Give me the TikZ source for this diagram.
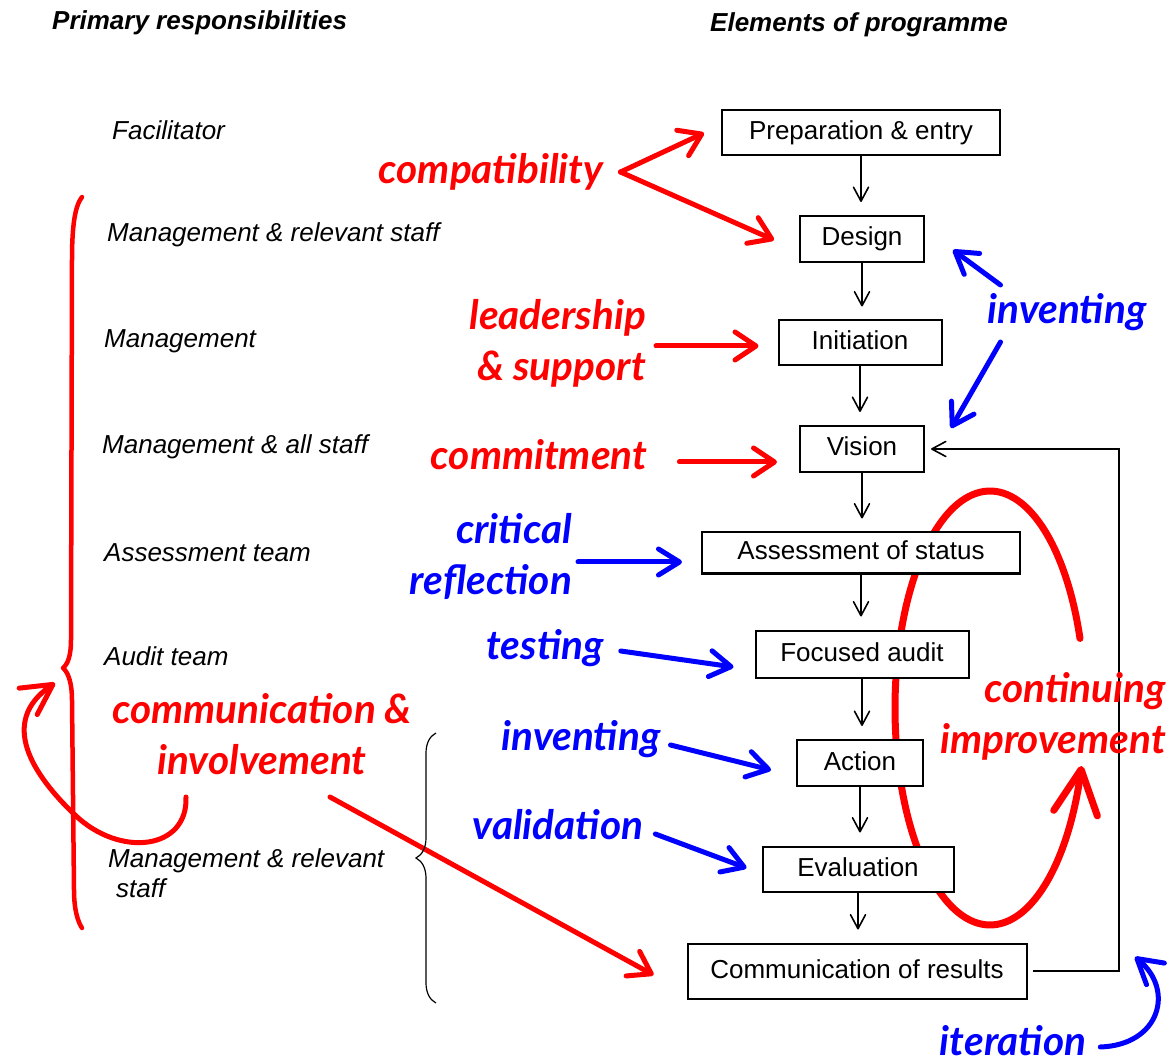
\documentclass[tikz,border=0pt]{standalone}
\usepackage{fontspec}
\setmainfont{Liberation Sans}
\newfontfamily\handfont{Lato}
\usetikzlibrary{arrows.meta,decorations.pathreplacing}
\definecolor{penred}{RGB}{255,0,0}
\definecolor{penblue}{RGB}{0,0,255}
\begin{document}
\begin{tikzpicture}[x=1pt,y=-1pt,
  box/.style={draw,line width=2pt,fill=white,inner sep=0pt,
    font=\fontsize{26}{30}\selectfont,text height=19pt,text depth=5pt},
  role/.style={anchor=west,inner sep=0pt,font=\fontsize{26}{30}\selectfont\itshape},
  head/.style={anchor=west,inner sep=0pt,font=\fontsize{26}{30}\selectfont\bfseries\itshape},
  hand/.style={inner sep=0pt,font=\handfont\bfseries\itshape\fontsize{40.5}{51}\selectfont},
  flow/.style={line width=1.6pt,-{Straight Barb[round,length=14pt,width=15pt]}},
  redarr/.style={penred,line width=5pt,line cap=round,-{Straight Barb[round,length=21pt,width=28pt]}},
  bluearr/.style={penblue,line width=5pt,line cap=round,-{Straight Barb[round,length=21pt,width=26pt]}}
]
\fill[white] (0,0) rectangle (1171,1064);
\useasboundingbox (0,0) rectangle (1171,1064);

% continuing-improvement loop, drawn first so the boxes cover it
\draw[penred,line width=7pt,line cap=round,-{Straight Barb[round,length=44pt,width=44pt]}]
  plot[domain=18.7:344.5,samples=140,smooth] ({990+95*cos(\x)},{708-217*sin(\x)});

% column headings
\node[head] (hleft) at (52,23) {Primary responsibilities};
\node[head] (hright) at (710,25) {Elements of programme};

% responsibilities
\node[role] (r1) at (112,130) {Facilitator};
\node[role] (r2) at (107,235) {Management \& relevant staff};
\node[role] (r3) at (104,341) {Management};
\node[role] (r4) at (102,447) {Management \& all staff};
\node[role] (r5) at (104,553) {Assessment team};
\node[role] (r6) at (104,656) {Audit team};
\node[role,align=left] (r7) at (108,873) {Management \& relevant\\\hspace*{8pt}staff};

% programme elements
\node[box,minimum width=278pt,minimum height=45pt] (prep) at (861,133) {Preparation \& entry};
\node[box,minimum width=124pt,minimum height=46pt] (design) at (862,239) {Design};
\node[box,minimum width=163pt,minimum height=45pt] (init) at (860,343) {Initiation};
\node[box,minimum width=124pt,minimum height=46pt] (vision) at (862,449) {Vision};
\node[box,minimum width=318pt,minimum height=41pt] (assess) at (861,553) {Assessment of status};
\node[box,minimum width=213pt,minimum height=47pt] (focus) at (862,654) {Focused audit};
\node[box,minimum width=126pt,minimum height=46pt] (action) at (860,763) {Action};
\node[box,minimum width=191pt,minimum height=45pt] (eval) at (858,869) {Evaluation};
\node[box,minimum width=339pt,minimum height=55pt] (comres) at (857,971) {Communication of results};

\foreach \a/\b in {prep/design,design/init,init/vision,vision/assess,assess/focus,focus/action,action/eval,eval/comres}
  \draw[flow,shorten >=13pt] (\a.south) -- (\a.south |- \b.north);

% feedback from results back to vision
\coordinate (loopturn) at (1119,449);
\draw[flow] ([xshift=5]comres.east) -| (loopturn) -- ([xshift=6]vision.east);

% hand-written annotations
\node[hand,penred] (compat) at (491,172) {compatibility};
\node[hand,penred,align=right,anchor=east] (lead) at (646,343) {leadership\\\& support};
\node[hand,penred] (commit) at (539,455) {commitment};
\node[hand,penblue,align=right,anchor=east] (crit) at (572,556) {critical\\reflection};
\node[hand,penblue] (test) at (545,648) {testing};
\node[hand,penblue] (inv2) at (581,739) {inventing};
\node[hand,penblue] (valid) at (558,825) {validation};
\node[hand,penblue] (inv1) at (1067,312) {inventing};
\node[hand,penred,align=right,anchor=east] (cont) at (1166,716) {continuing\\improvement};
\node[hand,penblue] (iter) at (1013,1041) {iteration};
\node[hand,penred,align=center] (commun) at (262,734) {communication \&\\involvement};

\coordinate (cfork) at ([xshift=17]compat.east);
\draw[redarr] (cfork) -- ([xshift=-17]prep.west);
\draw[redarr] (cfork) -- ([shift={(-25,1)}]design.west);
\draw[redarr] ([shift={(10,3)}]lead.east) -- ([shift={(-19,3)}]init.west);
\draw[redarr] ([shift={(32,7)}]commit.east) -- ([shift={(-22,13)}]vision.west);
\draw[bluearr] ([shift={(6,6)}]crit.east) -- ([shift={(-19,9)}]assess.west);
\draw[bluearr] ([shift={(17,3)}]test.east) -- ([shift={(-21,13)}]focus.west);
\draw[bluearr] ([shift={(10,6)}]inv2.east) -- ([shift={(-25,7)}]action.west);
\draw[bluearr] ([shift={(12,9)}]valid.east) -- ([shift={(-15,-1)}]eval.west);
\draw[bluearr] ([shift={(13,-27)}]inv1.west) -- ([shift={(28,11)}]design.east);
\draw[bluearr] ([shift={(13,30)}]inv1.west) -- ([shift={(26,-21)}]vision.east);
\draw[redarr] ([shift={(68,63)}]commun.center) -- ([shift={(-33,4)}]comres.west);
\draw[redarr,-{Straight Barb[round,length=30pt,width=32pt]}]
  ([shift={(-76,63)}]commun.center) .. controls (188,850) and (120,858) .. (75,815)
  .. controls (33,775) and (-2,722) .. (55,683);
\draw[bluearr,-{Straight Barb[round,length=24pt,width=28pt]}]
  ([shift={(14,6)}]iter.east) .. controls (1160,1045) and (1175,990) .. (1135,957);

% red brace spanning the management roles
\draw[penred,line width=4.5pt,line cap=round,line join=round]
  (82,197) .. controls (75,206) and (72,225) .. (72,260) -- (71,640)
  .. controls (71,655) and (68,664) .. (63,668)
  .. controls (69,673) and (72,685) .. (72,700) -- (74,890)
  .. controls (74,910) and (78,922) .. (82,928);

% thin brace grouping the last steps
\draw[line width=1.2pt,decorate,decoration={brace,amplitude=20pt,aspect=0.537}]
  (436,1003) -- (436,733);
\end{tikzpicture}
\end{document}
